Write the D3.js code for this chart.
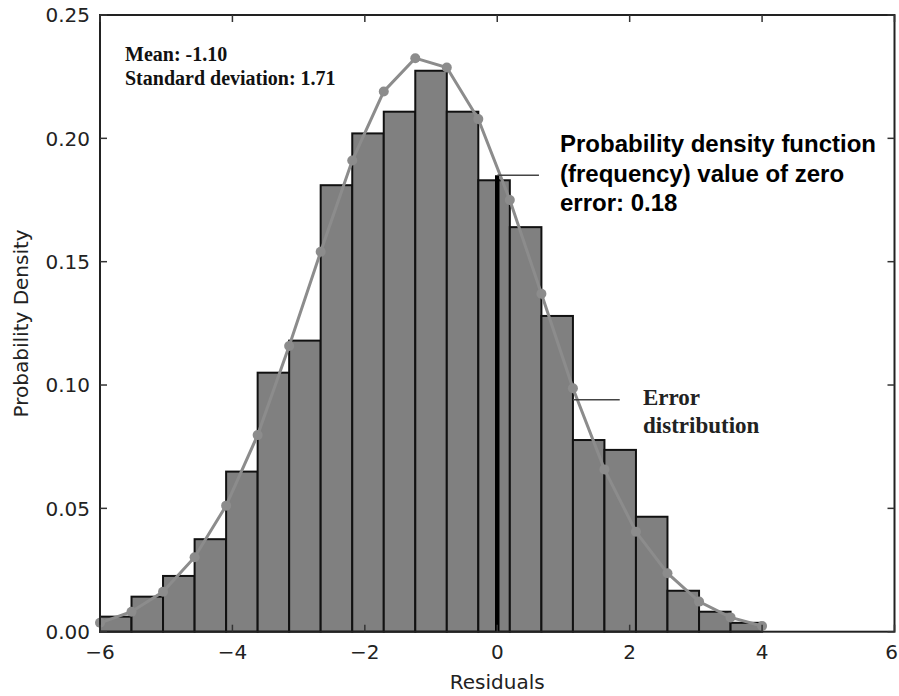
<!DOCTYPE html>
<html>
<head>
<meta charset="utf-8">
<script src="https://cdn.jsdelivr.net/npm/d3@7"></script>
<style>
  body { margin: 0; background: #fff; }
  svg { display: block; }
</style>
</head>
<body>
<svg id="chart" width="899" height="696"></svg>
<script>
// ヒストグラムのビン境界（残差）
const binEdges = [-6.00, -5.524, -5.048, -4.571, -4.095, -3.619, -3.143, -2.667, -2.190, -1.714,
  -1.238, -0.762, -0.286, 0.190, 0.667, 1.143, 1.619, 2.095, 2.571, 3.048, 3.524, 4.00];
// 各ビンの確率密度
const binDensity = [0.0061, 0.0142, 0.0226, 0.0375, 0.0649, 0.105, 0.118, 0.181, 0.202, 0.2108,
  0.2274, 0.2108, 0.183, 0.164, 0.128, 0.0777, 0.0737, 0.0466, 0.0166, 0.0081, 0.0036];
// 誤差分布の曲線（ビン境界ごとの値）
const curveDensity = [0.0036, 0.0081, 0.0162, 0.0302, 0.0511, 0.0797, 0.1158, 0.154, 0.191, 0.219,
  0.2325, 0.2287, 0.2078, 0.175, 0.137, 0.0987, 0.0658, 0.0405, 0.0237, 0.0122, 0.0058, 0.0023];
const xTicks = [-6, -4, -2, 0, 2, 4, 6];
const yTicks = [0.00, 0.05, 0.10, 0.15, 0.20, 0.25];
const zeroErrorValue = 0.185;
const errorLabelValue = 0.094;

const svg = d3.select("#chart");
const plotLeft = 100, plotRight = 894.5, plotTop = 15, plotBottom = 631.7;

const x = d3.scaleLinear().domain([-6, 6]).range([plotLeft, plotRight]);
const y = d3.scaleLinear().domain([0, 0.25]).range([plotBottom, plotTop]);

//棒グラフ
const bins = binDensity.map((d, i) => ({ x0: binEdges[i], x1: binEdges[i + 1], v: d }));
svg.append("g")
  .selectAll("rect")
  .data(bins)
  .join("rect")
  .attr("x", (d) => x(d.x0))
  .attr("y", (d) => y(d.v))
  .attr("width", (d) => x(d.x1) - x(d.x0))
  .attr("height", (d) => y(0) - y(d.v))
  .attr("fill", "#808080")
  .attr("stroke", "#111")
  .attr("stroke-width", 2);

// ゼロ誤差の線
svg.append("line")
  .attr("x1", x(0)).attr("x2", x(0))
  .attr("y1", y(0)).attr("y2", y(zeroErrorValue))
  .attr("stroke", "#000")
  .attr("stroke-width", 4.5);

// 曲線と点
const pts = curveDensity.map((d, i) => ({ x: binEdges[i], v: d }));
const line = d3.line().x((d) => x(d.x)).y((d) => y(d.v));
svg.append("path")
  .datum(pts)
  .attr("d", line)
  .attr("fill", "none")
  .attr("stroke", "#8c8c8c")
  .attr("stroke-width", 3);
svg.append("g")
  .selectAll("circle")
  .data(pts)
  .join("circle")
  .attr("cx", (d) => x(d.x))
  .attr("cy", (d) => y(d.v))
  .attr("r", 5)
  .attr("fill", "#8c8c8c");

// 注釈の線
svg.append("line")
  .attr("x1", x(0)).attr("x2", x(0.63))
  .attr("y1", y(zeroErrorValue)).attr("y2", y(zeroErrorValue))
  .attr("stroke", "#444").attr("stroke-width", 1.5);
svg.append("line")
  .attr("x1", x(1.143)).attr("x2", x(1.85))
  .attr("y1", y(errorLabelValue)).attr("y2", y(errorLabelValue))
  .attr("stroke", "#444").attr("stroke-width", 1.5);

//枠
svg.append("rect")
  .attr("x", plotLeft).attr("y", plotTop)
  .attr("width", plotRight - plotLeft).attr("height", plotBottom - plotTop)
  .attr("fill", "none")
  .attr("stroke", "#222")
  .attr("stroke-width", 2);

// 目盛り（内向き、四辺）
const tickLen = 7;
const tg = svg.append("g").attr("stroke", "#333").attr("stroke-width", 1.5);
xTicks.forEach((t) => {
  tg.append("line").attr("x1", x(t)).attr("x2", x(t)).attr("y1", plotBottom).attr("y2", plotBottom - tickLen);
  tg.append("line").attr("x1", x(t)).attr("x2", x(t)).attr("y1", plotTop).attr("y2", plotTop + tickLen);
});
yTicks.forEach((t) => {
  tg.append("line").attr("x1", plotLeft).attr("x2", plotLeft + tickLen).attr("y1", y(t)).attr("y2", y(t));
  tg.append("line").attr("x1", plotRight).attr("x2", plotRight - tickLen).attr("y1", y(t)).attr("y2", y(t));
});

const sans = "'DejaVu Sans', sans-serif";
// 右端のラベルは画面からはみ出さないよう右寄せ
svg.append("g")
  .selectAll("text")
  .data(xTicks)
  .join("text")
  .attr("x", (d, i) => (i == xTicks.length - 1 ? 898 : x(d)))
  .attr("y", plotBottom + 27)
  .attr("text-anchor", (d, i) => (i == xTicks.length - 1 ? "end" : "middle"))
  .attr("font-family", sans)
  .attr("font-size", 20)
  .attr("fill", "#222")
  .text((d) => d3.format("d")(d).replace("-", "\u2212"));
svg.append("g")
  .selectAll("text")
  .data(yTicks)
  .join("text")
  .attr("x", plotLeft - 10)
  .attr("y", (d) => y(d))
  .attr("dy", "0.36em")
  .attr("text-anchor", "end")
  .attr("font-family", sans)
  .attr("font-size", 20)
  .attr("fill", "#222")
  .text((d) => d3.format(".2f")(d));

// 軸ラベル
svg.append("text")
  .attr("x", x(0)).attr("y", 689)
  .attr("text-anchor", "middle")
  .attr("font-family", sans).attr("font-size", 20).attr("fill", "#222")
  .text("Residuals");
svg.append("text")
  .attr("transform", `translate(28,${(plotTop + plotBottom) / 2}) rotate(-90)`)
  .attr("text-anchor", "middle")
  .attr("font-family", sans).attr("font-size", 20).attr("fill", "#222")
  .text("Probability Density");

// 統計量
const serif = "'Liberation Serif', 'Times New Roman', serif";
const stats = svg.append("text")
  .attr("font-family", serif).attr("font-weight", "bold")
  .attr("font-size", 20).attr("fill", "#111");
stats.append("tspan").attr("x", 125).attr("y", 61).text("Mean: -1.10");
stats.append("tspan").attr("x", 125).attr("y", 85).text("Standard deviation: 1.71");

// ゼロ誤差の説明
const zeroText = svg.append("text")
  .attr("font-family", "'Liberation Sans', Arial, sans-serif").attr("font-weight", "bold")
  .attr("font-size", 24).attr("fill", "#000");
zeroText.append("tspan").attr("x", 560).attr("y", 151.5).text("Probability density function");
zeroText.append("tspan").attr("x", 560).attr("y", 181.5).text("(frequency) value of zero");
zeroText.append("tspan").attr("x", 560).attr("y", 210.5).text("error: 0.18");

// 誤差分布の説明
const errText = svg.append("text")
  .attr("font-family", serif).attr("font-weight", "bold")
  .attr("font-size", 23).attr("fill", "#222");
errText.append("tspan").attr("x", 643).attr("y", 405).text("Error");
errText.append("tspan").attr("x", 643).attr("y", 433).text("distribution");
</script>
</body>
</html>
